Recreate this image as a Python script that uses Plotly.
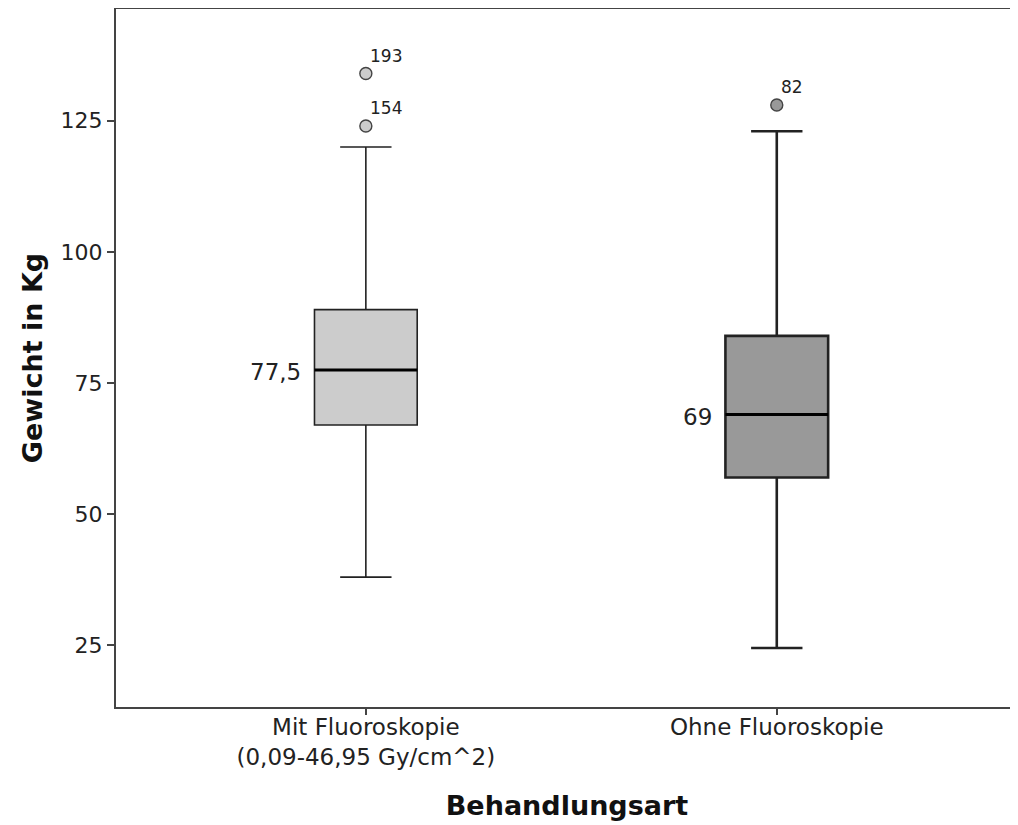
import plotly.graph_objects as go

# ---- data ----
categories = ["Mit Fluoroskopie<br>(0,09-46,95 Gy/cm^2)", "Ohne Fluoroskopie"]
positions = [0, 1]
q1_values = [67, 57]
median_values = [77.5, 69]
q3_values = [89, 84]
lower_whiskers = [38, 24.5]
upper_whiskers = [120, 123]
outlier_values = [[134, 124], [128]]
outlier_ids = [["193", "154"], ["82"]]
y_ticks = [25, 50, 75, 100, 125]

fills = ["#cccccc", "#999999"]
whisker_widths = [1.6, 2.6]
box_width = 0.25
FONT = "DejaVu Sans"

fig = go.Figure()

for i, pos in enumerate(positions):
    fig.add_trace(go.Box(
        x=[pos], q1=[q1_values[i]], median=[median_values[i]], q3=[q3_values[i]],
        lowerfence=[lower_whiskers[i]], upperfence=[upper_whiskers[i]],
        width=box_width, whiskerwidth=0.5, boxpoints=False,
        fillcolor=fills[i], line=dict(color="#222222", width=whisker_widths[i]),
        showlegend=False, hoverinfo="skip",
    ))
    # thicker median line
    fig.add_trace(go.Scatter(
        x=[pos - box_width / 2, pos + box_width / 2],
        y=[median_values[i], median_values[i]],
        mode="lines", line=dict(color="#000000", width=3),
        showlegend=False, hoverinfo="skip",
    ))
    # outliers
    fig.add_trace(go.Scatter(
        x=[pos] * len(outlier_values[i]), y=outlier_values[i],
        mode="markers",
        marker=dict(symbol="circle", size=12, color=fills[i],
                    line=dict(color="#444444", width=1.4)),
        showlegend=False, hoverinfo="skip",
    ))
    for val, oid in zip(outlier_values[i], outlier_ids[i]):
        fig.add_annotation(x=pos, y=val, text=oid, showarrow=False,
                           xanchor="left", yanchor="bottom", xshift=2, yshift=6,
                           font=dict(family=FONT, size=17, color="#222222"))
    # median label
    fig.add_annotation(x=pos - box_width / 2, y=median_values[i],
                       text=f"{median_values[i]:g}".replace(".", ","),
                       showarrow=False, xanchor="right", yanchor="middle",
                       xshift=-11, yshift=-2,
                       font=dict(family=FONT, size=23, color="#222222"))

fig.update_layout(
    width=1010, height=817,
    margin=dict(l=108, r=0, t=1, b=118),
    paper_bgcolor="white", plot_bgcolor="white",
    font=dict(family=FONT, color="#222222"),
    xaxis=dict(
        range=[-0.608, 1.587], tickvals=positions, ticktext=categories,
        showgrid=False, zeroline=False,
        showline=True, linecolor="#444444", linewidth=2, mirror=True,
        ticks="outside", ticklen=6, tickwidth=1.5, tickcolor="#444444",
        ticklabelstandoff=-8,
        tickfont=dict(family=FONT, size=23, color="#222222"),
        title=dict(text="<b>Behandlungsart</b>", standoff=28,
                   font=dict(family=FONT, size=27, color="#111111")),
    ),
    yaxis=dict(
        range=[13.25, 146.3], tickvals=y_ticks,
        showgrid=False, zeroline=False,
        showline=True, linecolor="#444444", linewidth=2,
        ticks="outside", ticklen=7, tickwidth=1.5, tickcolor="#444444",
        tickfont=dict(family=FONT, size=22, color="#222222"),
        title=dict(text="<b>Gewicht in Kg</b>", standoff=10,
                   font=dict(family=FONT, size=27, color="#111111")),
    ),
)

fig.write_html("out.html")
